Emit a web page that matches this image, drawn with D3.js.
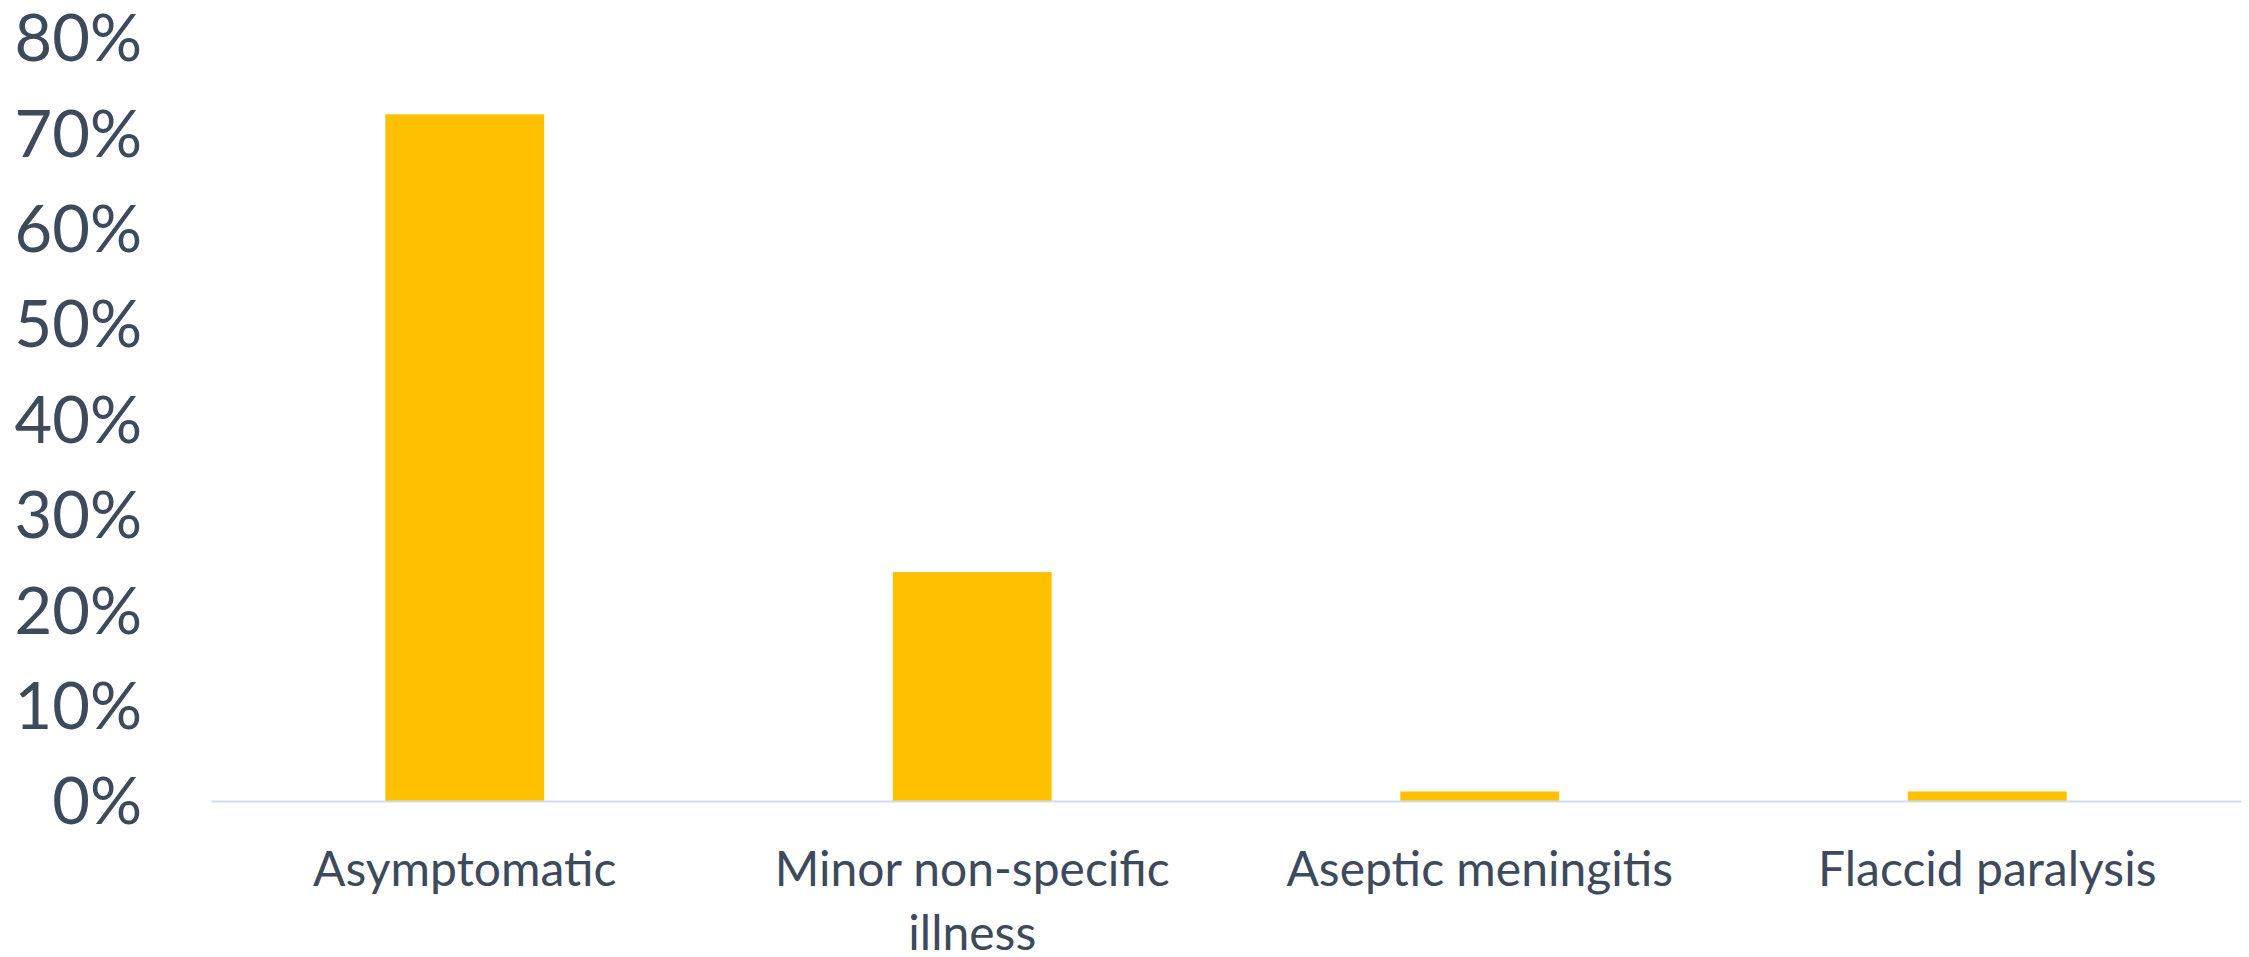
<!DOCTYPE html>
<html>
<head>
<meta charset="utf-8">
<script src="https://cdn.jsdelivr.net/npm/d3@7"></script>
<style>
  html, body { margin: 0; padding: 0; background: #fff; }
  svg { display: block; }
</style>
</head>
<body>
<div id="chart"></div>
<script>
// 数据
const categories = ["Asymptomatic", "Minor non-specific illness", "Aseptic meningitis", "Flaccid paralysis"];
const shares = [0.72, 0.24, 0.01, 0.01];
const yTicks = [0, 0.1, 0.2, 0.3, 0.4, 0.5, 0.6, 0.7, 0.8];

const width = 2249;
const height = 957;
const textColor = '#3d4a5c';

const svg = d3.select('#chart')
    .append('svg')
    .attr('width', width)
    .attr('height', height);

const x = d3.scaleBand()
    .domain(categories)
    .range([211, 2241])
    .paddingInner(0.687)
    .paddingOuter(0.3435);

const y = d3.scaleLinear()
    .domain([0, 0.8])
    .range([801, 38]);

// 柱子
svg.selectAll('rect.bar')
    .data(categories)
    .join('rect')
    .attr('class', 'bar')
    .attr('x', d => x(d))
    .attr('y', (d, i) => y(shares[i]))
    .attr('width', x.bandwidth())
    .attr('height', (d, i) => y(0) - y(shares[i]))
    .attr('fill', '#ffc000');

// x 轴
const xAxis = svg.append('g')
    .attr('transform', `translate(0,${y(0)})`)
    .call(d3.axisBottom(x).tickSize(0).tickPadding(0));
xAxis.select('.domain')
    .attr('stroke', '#d0dcf6')
    .attr('stroke-width', 2);
xAxis.selectAll('text').remove();

// x 轴标签，自动换行
const xLabels = xAxis.selectAll('.tick')
    .append('text')
    .attr('fill', textColor)
    .attr('font-family', 'Lato, "Open Sans", sans-serif')
    .attr('font-size', '48px')
    .attr('text-anchor', 'middle')
    .attr('y', 85);

xLabels.each(function(d) {
    const t = d3.select(this);
    const words = d.split(' ');
    let line = [];
    let tspan = t.append('tspan').attr('x', 0).attr('dy', 0);
    words.forEach(w => {
        line.push(w);
        tspan.text(line.join(' '));
        if (tspan.node().getComputedTextLength() > 450 && line.length > 1) {
            line.pop();
            tspan.text(line.join(' '));
            line = [w];
            tspan = t.append('tspan').attr('x', 0).attr('dy', 64).text(w);
        }
    });
});

// y 轴
const yAxis = svg.append('g')
    .attr('transform', 'translate(142,0)')
    .call(d3.axisLeft(y).tickValues(yTicks).tickFormat(d3.format('.0%')).tickSize(0).tickPadding(0));
yAxis.select('.domain').remove();
yAxis.selectAll('text')
    .attr('fill', textColor)
    .attr('font-family', 'Lato, "Open Sans", sans-serif')
    .attr('font-size', '65px')
    .attr('dy', '0.35em');
</script>
</body>
</html>
